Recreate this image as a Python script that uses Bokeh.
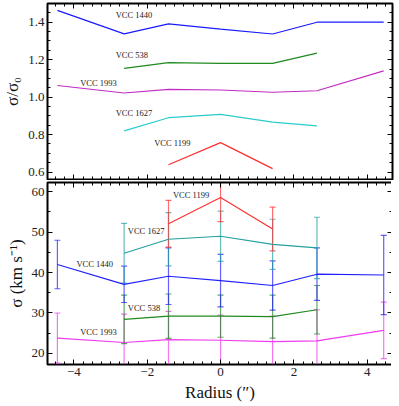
from bokeh.plotting import figure
from bokeh.layouts import column
from bokeh.models import (Range1d, SingleIntervalTicker, LinearAxis,
                          CustomJSTickFormatter, PrintfTickFormatter)
from bokeh.core.properties import value
from bokeh.embed import file_html
from bokeh.resources import INLINE

FONT = "Liberation Serif"
AX_FONT = "'Liberation Serif'"

# ---------------- data ----------------
radius_all = [-4.45, -2.63, -1.42, 0.0, 1.42, 2.63, 4.45]
radius_mid = [-2.63, -1.42, 0.0, 1.42, 2.63]
radius_in = [-1.42, 0.0, 1.42]

# normalised dispersion sigma/sigma0
ratio_1440 = [1.463, 1.338, 1.391, 1.363, 1.337, 1.400, 1.400]
ratio_538 = [1.154, 1.184, 1.180, 1.180, 1.235]
ratio_1993 = [1.062, 1.022, 1.041, 1.038, 1.026, 1.034, 1.140]
ratio_1627 = [0.820, 0.890, 0.908, 0.866, 0.846]
ratio_1199 = [0.639, 0.757, 0.618]

# dispersion sigma (km/s) and errors
sig_1199 = [52.1, 58.6, 50.8]
err_1199 = [5.8, 6.0, 5.4]
sig_1627 = [44.8, 48.25, 49.0, 47.0, 46.1]
err_1627 = [7.4, 6.6, 6.2, 6.2, 7.6]
sig_1440 = [42.0, 37.1, 39.1, 38.0, 36.8, 39.6, 39.4]
err_1440 = [6.0, 4.5, 7.0, 6.5, 6.1, 6.5, 9.8]
sig_538 = [28.4, 29.2, 29.2, 29.1, 30.8]
err_538 = [6.0, 5.5, 5.2, 5.3, 6.0]
sig_1993 = [23.8, 22.7, 23.4, 23.25, 22.9, 23.1, 25.7]
err_1993 = [6.2, 7.0, 7.0, 6.2, 6.3, 7.7, 7.0]

names = ["VCC 1440", "VCC 538", "VCC 1993", "VCC 1627", "VCC 1199"]

# label anchor positions (data coords)
top_lab_x = [-2.86, -2.86, -3.83, -2.86, -1.81]
top_lab_y = [1.437, 1.226, 1.077, 0.915, 0.757]
bot_lab_x = [-3.93, -2.53, -3.83, -2.53, -1.30]
bot_lab_y = [42.1, 31.2, 25.2, 50.2, 59.2]

top_colors = {"VCC 1440": "#1a1aff", "VCC 538": "#1f8a1f", "VCC 1993": "#c22cc2",
              "VCC 1627": "#2ccccc", "VCC 1199": "#ff3030"}
bot_colors = {"VCC 1440": "#2020ff", "VCC 538": "#1f8a1f", "VCC 1993": "#ee3cee",
              "VCC 1627": "#23a0a0", "VCC 1199": "#ff3030"}

X_RANGE = (-4.72, 4.69)


def blank_formatter():
    return CustomJSTickFormatter(code="return ''")


def style_axis(ax, ticker, hide, overrides=None, fmt=None):
    ax.ticker = ticker
    ax.major_tick_in = 5
    ax.major_tick_out = 0
    ax.minor_tick_in = 3
    ax.minor_tick_out = 0
    ax.major_tick_line_color = "black"
    ax.minor_tick_line_color = "black"
    ax.axis_line_color = "black"
    ax.axis_line_width = 1
    if hide:
        ax.formatter = blank_formatter()
        ax.major_label_text_font_size = "1px"
        ax.major_label_standoff = 0
    else:
        if fmt is not None:
            ax.formatter = fmt
        ax.major_label_text_font = AX_FONT
        ax.major_label_text_font_size = "13px"
        ax.major_label_text_color = "#222222"
        ax.major_label_standoff = 3
    if overrides:
        ax.major_label_overrides = overrides


def style_label(ax, text):
    ax.axis_label = text
    ax.axis_label_text_font = AX_FONT
    ax.axis_label_text_font_style = "normal"
    ax.axis_label_text_font_size = "17px"
    ax.axis_label_text_color = "#111111"
    ax.axis_label_standoff = 3


def make_fig(y_range, frame_h, top_border, bottom_border):
    p = figure(frame_width=345, frame_height=frame_h,
               x_range=Range1d(*X_RANGE), y_range=Range1d(*y_range),
               output_backend="svg", toolbar_location=None,
               min_border_left=36, min_border_right=2,
               min_border_top=top_border, min_border_bottom=bottom_border)
    p.grid.visible = False
    p.outline_line_color = "black"
    p.outline_line_width = 2
    p.outline_line_alpha = 1
    p.background_fill_color = "white"
    p.border_fill_color = "white"
    return p


xtick = SingleIntervalTicker(interval=2, num_minor_ticks=8)
minus = {-4: "\u22124", -2: "\u22122"}

# ---------------- top panel ----------------
top = make_fig((0.56, 1.5), 176, 3, 1)
ytick_top = SingleIntervalTicker(interval=0.2, num_minor_ticks=4)
style_axis(top.xaxis[0], xtick, True)
style_axis(top.yaxis[0], ytick_top, False, fmt=PrintfTickFormatter(format="%.1f"))
style_label(top.yaxis[0], "\u03c3/\u03c3\u2080")
ra = LinearAxis()
style_axis(ra, ytick_top, True)
top.add_layout(ra, "right")
aa = LinearAxis()
style_axis(aa, xtick, True)
top.add_layout(aa, "above")

top_series = [("VCC 1440", radius_all, ratio_1440), ("VCC 538", radius_mid, ratio_538),
              ("VCC 1993", radius_all, ratio_1993), ("VCC 1627", radius_mid, ratio_1627),
              ("VCC 1199", radius_in, ratio_1199)]
for nm, xs, ys in top_series:
    top.line(xs, ys, line_color=top_colors[nm], line_width=1.2)
top.text(x=top_lab_x, y=top_lab_y, text=names, text_font=value(FONT),
         text_font_size="8.5px", text_baseline="middle", text_align="left",
         text_color="#222222")

# ---------------- bottom panel ----------------
bot = make_fig((17.25, 62.3), 182, 2, 0)
ytick_bot = SingleIntervalTicker(interval=10, num_minor_ticks=2)
style_axis(bot.xaxis[0], xtick, False, minus)
style_label(bot.xaxis[0], "Radius (\u2033)")
bot.xaxis[0].axis_label_standoff = 4
style_axis(bot.yaxis[0], ytick_bot, False)
style_label(bot.yaxis[0], "\u03c3 (km s\u207b\u00b9)")
ra2 = LinearAxis()
style_axis(ra2, ytick_bot, True)
bot.add_layout(ra2, "right")
aa2 = LinearAxis()
style_axis(aa2, xtick, True)
bot.add_layout(aa2, "above")

bot_series = [("VCC 1993", radius_all, sig_1993, err_1993),
              ("VCC 538", radius_mid, sig_538, err_538),
              ("VCC 1440", radius_all, sig_1440, err_1440),
              ("VCC 1627", radius_mid, sig_1627, err_1627),
              ("VCC 1199", radius_in, sig_1199, err_1199)]
for nm, xs, ys, es in bot_series:
    c = bot_colors[nm]
    up = [y + e for y, e in zip(ys, es)]
    lo = [y - e for y, e in zip(ys, es)]
    bot.segment(x0=xs, y0=lo, x1=xs, y1=up, line_color=c, line_width=1.2, line_alpha=0.7)
    bot.scatter(xs, up, marker="dash", size=6, line_color=c, line_width=1.2, line_alpha=0.7)
    bot.scatter(xs, lo, marker="dash", size=6, line_color=c, line_width=1.2, line_alpha=0.7)
for nm, xs, ys, es in bot_series:
    bot.line(xs, ys, line_color=bot_colors[nm], line_width=1.2)
bot.text(x=bot_lab_x, y=bot_lab_y, text=names, text_font=value(FONT),
         text_font_size="8.5px", text_baseline="middle", text_align="left",
         text_color="#222222")

layout = column(top, bot, spacing=0)
open("out.html", "w").write(file_html(layout, INLINE))
